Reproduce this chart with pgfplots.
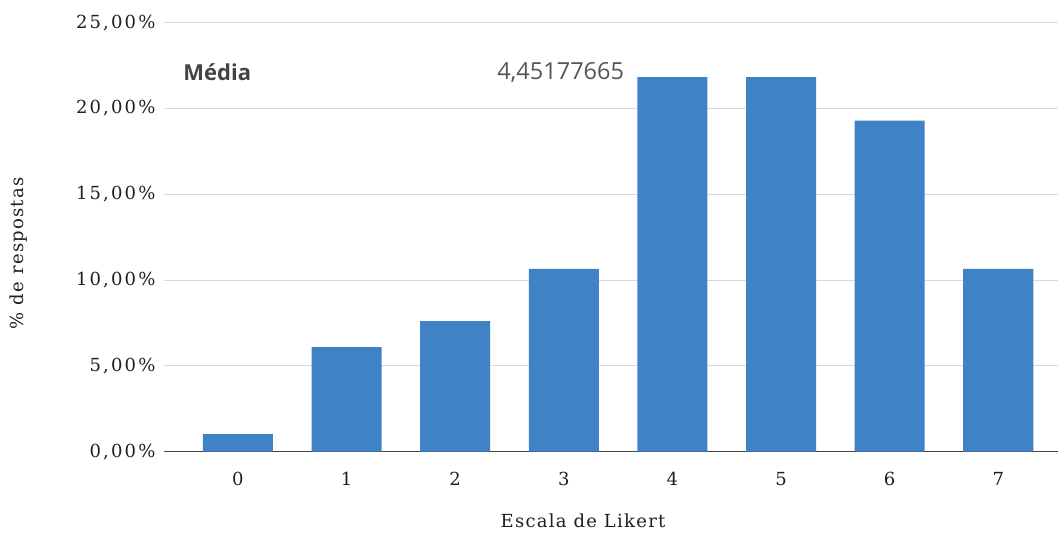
\documentclass[border=0pt]{standalone}
\usepackage{fontspec}
\setmainfont{DejaVu Serif}[LetterSpace=12]
\newfontfamily\labelfont{DejaVu Serif}[LetterSpace=7]
\newfontfamily\notesans{Open Sans}
\usepackage{pgfplots}
\pgfplotsset{compat=1.18}
\definecolor{barblue}{HTML}{3F83C6}
\definecolor{gridgray}{HTML}{D9D9D9}
\definecolor{axisgray}{HTML}{444444}
\definecolor{notegray}{HTML}{555555}

\pgfplotstableread{
x pct
0 1.02
1 6.09
2 7.61
3 10.66
4 21.83
5 21.83
6 19.29
7 10.66
}\likert

\begin{document}
\begin{tikzpicture}
\begin{axis}[
  name=main,
  scale only axis,
  width=894pt, height=429pt,
  xmin=-0.681, xmax=7.55,
  ymin=0, ymax=25,
  axis x line*=bottom,
  axis y line*=left,
  y axis line style={draw=none},
  x axis line style={draw=axisgray, line width=1.2pt, -},
  major tick length=0pt,
  ymajorgrids,
  grid style={gridgray, line width=1pt},
  ytick={0,5,10,15,20,25},
  yticklabels={{0,00\%},{5,00\%},{10,00\%},{15,00\%},{20,00\%},{25,00\%}},
  xtick={0,1,2,3,4,5,6,7},
  xticklabels={0,1,2,3,4,5,6,7},
  tick label style={font=\fontsize{18}{21}\selectfont, text=black!88},
  yticklabel style={xshift=-5pt},
  xticklabel style={yshift=-17pt},
  xlabel={Escala de Likert},
  ylabel={\% de respostas},
  label style={font=\labelfont\fontsize{18}{22}\selectfont, text=black!88},
  xlabel style={yshift=-21pt, xshift=-28pt},
  ylabel style={yshift=42pt, xshift=-16pt},
  /pgf/number format/assume math mode=true,
  clip=false,
]
\addplot[ybar, bar width=0.645, fill=barblue, draw=none] table[x=x, y=pct] {\likert};
\node[anchor=west, font=\notesans\bfseries\fontsize{22}{26}\selectfont, text=axisgray] at (axis cs:-0.535,22.1) {Média};
\node[anchor=west, font=\notesans\fontsize{23.5}{27}\selectfont, text=notegray] at (axis cs:2.355,22.1) {4,45177665};
\end{axis}
\pgfresetboundingbox
\path[use as bounding box] (main.south west) ++(-164pt,-81.3pt) rectangle (main.north east) ++(0pt,22.7pt);
\end{tikzpicture}
\end{document}
